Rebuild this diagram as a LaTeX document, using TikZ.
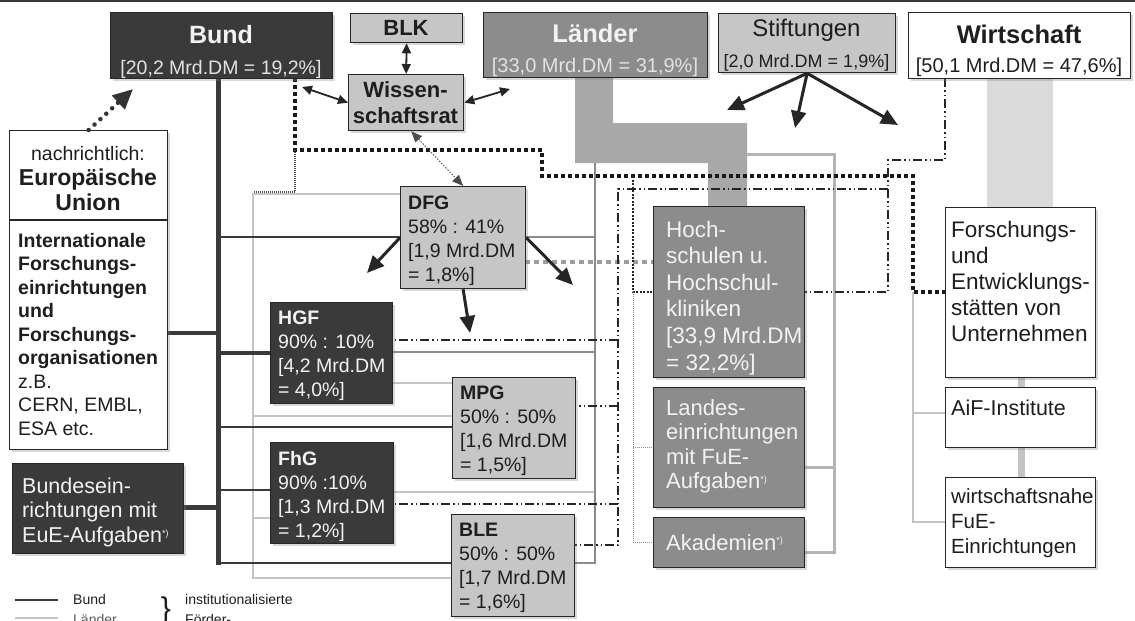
\documentclass[tikz,border=0pt]{standalone}
\usepackage{fontspec}
\setmainfont{Liberation Sans}
\usetikzlibrary{arrows.meta,shadows}
\definecolor{bdark}{HTML}{3A3A3A}
\definecolor{bmid}{HTML}{8C8C8C}
\definecolor{blight}{HTML}{C6C6C6}
\definecolor{tlight}{HTML}{F2F2F2}
\definecolor{tsub}{HTML}{E2E2E2}
\definecolor{tdark}{HTML}{1E1E1E}
\definecolor{band}{HTML}{A8A8A8}
\definecolor{wband}{HTML}{DADADA}
\definecolor{lgray}{HTML}{C4C4C4}
\definecolor{mgray}{HTML}{8A8A8A}
\definecolor{lband}{HTML}{B4B4B4}
\newcommand\fs[2]{\fontsize{#1}{#2}\selectfont}
\newcommand\fnm{\raisebox{0.55ex}{\fs{9}{9}*)}}
\begin{document}
\begin{tikzpicture}[x=1pt,y=-1pt,
  nb/.style={draw=black!85,line width=1.3pt,anchor=north west,inner sep=0pt,
    drop shadow={shadow xshift=2.5pt,shadow yshift=-2.5pt,opacity=0.3}},
  dkb/.style={nb,fill=bdark},
  mdb/.style={nb,fill=bmid},
  ltb/.style={nb,fill=blight},
  whb/.style={nb,fill=white},
  tl/.style={anchor=north west,inner sep=0pt,align=left},
  tc/.style={anchor=base,inner sep=0pt},
  lgt/.style={anchor=base west,inner sep=0pt,font=\fs{14}{16}},
  bthick/.style={line width=5pt,draw=bdark},
  bthin/.style={line width=2pt,draw=bdark},
  lmed/.style={line width=1.4pt,draw=mgray},
  llt/.style={line width=1.2pt,draw=lgray},
  lbd/.style={line width=3pt,draw=lband},
  ddd/.style={line width=1.6pt,draw=black!85,dash pattern=on 9pt off 3pt on 1.5pt off 3pt on 1.5pt off 3pt},
  sqd/.style={line width=3.5pt,draw=black!90,dash pattern=on 3.5pt off 3.5pt},
  smd/.style={line width=2pt,draw=black!85,dash pattern=on 2pt off 1.5pt},
  ltd/.style={line width=1pt,draw=black!45,dash pattern=on 1pt off 1pt},
  gdsh/.style={line width=4pt,draw=black!38,dash pattern=on 5pt off 4pt},
  arrB/.style={line width=3pt,draw=black!85,-{Triangle[length=17pt,width=15pt]}},
  arrW/.style={line width=1.8pt,draw=black!85,{Triangle[length=10pt,width=9pt]}-{Triangle[length=10pt,width=9pt]}},
  arrD/.style={line width=0.9pt,draw=black!70,dash pattern=on 1.5pt off 1.5pt,{Triangle[length=11pt,width=9pt]}-{Triangle[length=11pt,width=9pt]}},
  arrEU/.style={line width=4.5pt,draw=black!80,line cap=round,dash pattern=on 0pt off 8pt,-{Triangle[length=20pt,width=18pt]}}
]
\useasboundingbox (0,0) rectangle (1135,621);
\clip (0,0) rectangle (1135,621);
\fill[white] (0,0) rectangle (1135,621);
\draw[line width=2.5pt,draw=bdark] (0,1) -- (1135,1);

% ---- gray bands
\fill[band] (575,77) -- (613,77) -- (613,123) -- (747,123) -- (747,206) -- (708,206) -- (708,163) -- (575,163) -- cycle;
\fill[wband] (987,78) rectangle (1053,207);
\draw[line width=7pt,draw=wband!90!black] (1021,377) -- (1021,387);
\draw[line width=7pt,draw=wband!90!black] (1021,447) -- (1021,477);

% ---- light gray thin lines
\draw[llt] (400,194) -- (253,194) -- (253,578) -- (451,578);
\draw[llt] (253,416) -- (452,416);
\draw[llt] (392,383) -- (452,383);
\draw[llt] (253,518) -- (270,518);
\draw[llt] (393,492) -- (595,492);
\draw[llt] (913,292) -- (913,522) -- (945,522);
\draw[llt] (913,413) -- (945,413);

% ---- Laender medium lines
\draw[lmed] (595,163) -- (595,563) -- (574,563);
\draw[lmed] (525,237) -- (595,237);
\draw[lmed] (392,352) -- (595,352);
\draw[lbd] (747,154) -- (834,154) -- (834,552) -- (804,552);
\draw[lbd] (834,467) -- (804,467);

% ---- Bund lines
\draw[bthin] (218,237) -- (400,237);
\draw[bthin] (218,427) -- (452,427);
\draw[bthin] (218,563) -- (451,563);
\draw[line width=2.5pt,draw=bdark] (218,490) -- (270,490);
\draw[bthick] (218,78) -- (218,565);
\draw[line width=4pt,draw=bdark] (167,333) -- (218,333);
\draw[line width=4pt,draw=bdark] (218,353) -- (270,353);
\draw[bthick] (183,507) -- (218,507);

% ---- dotted / dash-dot lines
\draw[gdsh] (525,262) -- (653,262);
\draw[ddd] (945,78) -- (945,160) -- (888,160) -- (888,292) -- (804,292);
\draw[ddd] (888,189) -- (618,189) -- (618,545) -- (574,545);
\draw[ddd] (618,340) -- (392,340);
\draw[ddd] (618,406) -- (575,406);
\draw[ddd] (618,504) -- (393,504);
\draw[sqd] (295,78) -- (295,150) -- (542,150) -- (542,176) -- (913,176) -- (913,292) -- (945,292);
\draw[ltd,line width=1.3pt,draw=black!70] (295,150) -- (295,192) -- (253,192);
\draw[smd] (633,176) -- (633,292) -- (653,292);
\draw[ltd] (633,292) -- (633,542) -- (653,542);
\draw[ltd] (633,447) -- (653,447);

% ---- top boxes
\node[dkb,minimum width=222pt,minimum height=66pt] (bund) at (110,12) {};
\node[tc,text=tlight,font=\bfseries\fs{25}{28}] (bundt) at (221,43) {Bund};
\node[tc,text=tsub,font=\fs{19.5}{22}] (bunds) at (221,74) {[20,2 Mrd.DM = 19,2\%]};

\node[ltb,minimum width=112pt,minimum height=29pt] (blk) at (350,13) {};
\node[tc,text=tdark,font=\bfseries\fs{22}{24}] (blkt) at (406,35) {BLK};

\node[ltb,minimum width=115pt,minimum height=56pt] (wr) at (348,74) {};
\node[tc,text=tdark,font=\bfseries\fs{22}{24}] (wrt1) at (405.5,97) {Wissen-};
\node[tc,text=tdark,font=\bfseries\fs{22}{24}] (wrt2) at (405.5,123) {schaftsrat};

\node[mdb,minimum width=224pt,minimum height=65pt] (laender) at (483,12) {};
\node[tc,text=tlight,font=\bfseries\fs{25.5}{28}] (laendert) at (595,42) {Länder};
\node[tc,text=tsub,font=\fs{20}{22}] (laenders) at (595,72) {[33,0 Mrd.DM = 31,9\%]};

\node[ltb,minimum width=177pt,minimum height=59pt] (stif) at (718,13) {};
\node[tc,text=tdark,font=\fs{24}{26}] (stift) at (806.5,36) {Stiftungen};
\node[tc,text=tdark,font=\fs{18}{20}] (stifs) at (806.5,67) {[2,0 Mrd.DM = 1,9\%]};

\node[whb,minimum width=222pt,minimum height=66pt] (wirt) at (908,12) {};
\node[tc,text=tdark,font=\bfseries\fs{25.5}{28}] (wirtt) at (1019,43) {Wirtschaft};
\node[tc,text=tdark,font=\fs{20}{22}] (wirts) at (1019,72) {[50,1 Mrd.DM = 47,6\%]};

% ---- left boxes
\node[whb,minimum width=158pt,minimum height=319pt] (eu) at (9,130) {};
\draw[line width=1.3pt,draw=black!85] (eu.west |- 0,220) -- (eu.east |- 0,220);
\node[tc,text=tdark,font=\fs{19.5}{22}] (eut1) at (88,160) {nachrichtlich:};
\node[tc,text=tdark,font=\bfseries\fs{23}{25}] (eut2) at (88,185) {Europäische};
\node[tc,text=tdark,font=\bfseries\fs{23}{25}] (eut3) at (88,210) {Union};
\node[tl,text=tdark,font=\fs{19.5}{23.5}] (intl) at (18,233) {\textbf{Internationale}\\\textbf{Forschungs-}\\\textbf{einrichtungen}\\\textbf{und}\\\textbf{Forschungs-}\\\textbf{organisationen}\\z.B.\\CERN, EMBL,\\ESA etc.};

\node[dkb,minimum width=171pt,minimum height=90pt] (bein) at (12,463) {};
\node[tl,text=tlight,font=\fs{21.5}{24.5}] (beint) at (22,477.5) {Bundesein-\\richtungen mit\\EuE-Aufgaben\fnm};

% ---- middle boxes
\node[ltb,minimum width=125pt,minimum height=102pt] (dfg) at (400,186) {};
\node[tl,text=tdark,font=\fs{19.5}{24}] (dfgt) at (408,196) {\textbf{DFG}\\58\% : 41\%\\{[}1,9 Mrd.DM\\= 1,8\%]};

\node[dkb,minimum width=122pt,minimum height=101pt] (hgf) at (270,302) {};
\node[tl,text=tlight,font=\fs{19.5}{24}] (hgft) at (278,311) {\textbf{HGF}\\90\% : 10\%\\{[}4,2 Mrd.DM\\= 4,0\%]};

\node[ltb,minimum width=123pt,minimum height=101pt] (mpg) at (452,377) {};
\node[tl,text=tdark,font=\fs{19.5}{24}] (mpgt) at (460,386) {\textbf{MPG}\\50\% : 50\%\\{[}1,6 Mrd.DM\\= 1,5\%]};

\node[dkb,minimum width=123pt,minimum height=101pt] (fhg) at (270,442) {};
\node[tl,text=tlight,font=\fs{19.5}{24}] (fhgt) at (278,451) {\textbf{FhG}\\90\% :10\%\\{[}1,3 Mrd.DM\\= 1,2\%]};

\node[ltb,minimum width=123pt,minimum height=102pt] (ble) at (451,514) {};
\node[tl,text=tdark,font=\fs{19.5}{24}] (blet) at (459,523) {\textbf{BLE}\\50\% : 50\%\\{[}1,7 Mrd.DM\\= 1,6\%]};

% ---- Laender institutions
\node[mdb,minimum width=151pt,minimum height=171pt] (hs) at (653,206) {};
\node[tl,text=tlight,font=\fs{22.5}{26.6}] (hst) at (666,220.5) {Hoch-\\schulen u.\\Hochschul-\\kliniken\\{[}33,9 Mrd.DM\\= 32,2\%]};

\node[mdb,minimum width=151pt,minimum height=120pt] (le) at (653,387) {};
\node[tl,text=tlight,font=\fs{22}{24.5}] (let) at (666,399) {Landes-\\einrichtungen\\mit FuE-\\Aufgaben\fnm};

\node[mdb,minimum width=151pt,minimum height=50pt] (ak) at (653,517) {};
\node[tl,text=tlight,font=\fs{22}{24.5}] (akt) at (666,534) {Akademien\fnm};

% ---- Wirtschaft institutions
\node[whb,minimum width=150pt,minimum height=170pt] (fue) at (945,207) {};
\node[tl,text=tdark,font=\fs{22.5}{26}] (fuet) at (951,221) {Forschungs-\\und\\Entwicklungs-\\stätten von\\Unternehmen};

\node[whb,minimum width=150pt,minimum height=60pt] (aif) at (945,387) {};
\node[tl,text=tdark,font=\fs{21.5}{24}] (aift) at (951,399.5) {AiF-Institute};

\node[whb,minimum width=150pt,minimum height=90pt] (wn) at (945,477) {};
\node[tl,text=tdark,font=\fs{20.5}{25}] (wnt) at (951,488) {wirtschaftsnahe\\FuE-\\Einrichtungen};

% ---- arrows
\coordinate (euTip) at (133,89);
\draw[arrEU] (eu.north) -- (euTip);
\draw[arrW] (blk.south) -- (wr.north);
\coordinate (wrB) at (302,87);
\draw[arrW] (wr.west) -- (wrB);
\coordinate (wrL) at (510,89);
\draw[arrW] (wr.east) -- (wrL);
\draw[arrD] ([xshift=5pt]wr.south) -- (dfg.north);

\coordinate (s1) at (727,110);
\coordinate (s2) at (795,128);
\coordinate (s3) at (898,125);
\draw[arrB] (stif.south) -- (s1);
\draw[arrB] (stif.south) -- (s2);
\draw[arrB] (stif.south) -- (s3);

\coordinate (d1) at (367,273);
\coordinate (d2) at (470,333);
\coordinate (d3) at (573,285);
\draw[arrB] (dfg.west) -- (d1);
\draw[arrB] (dfg.south) -- (d2);
\draw[arrB] (dfg.east) -- (d3);

% ---- legend
\draw[line width=2.5pt,draw=bdark] (15,600) -- (58,600);
\node[lgt,text=tdark] (lg1) at (73,604) {Bund};
\draw[line width=2.5pt,draw=lgray] (15,618) -- (58,618);
\node[lgt,text=black!65] (lg2) at (73,624) {Länder};
\node[tc,text=tdark,font=\fs{30}{30}] (lgb) at (166,618) {\}};
\node[lgt,text=tdark] (lg3) at (185,604) {institutionalisierte};
\node[lgt,text=tdark] (lg4) at (185,624) {Förder-};
\end{tikzpicture}
\end{document}
